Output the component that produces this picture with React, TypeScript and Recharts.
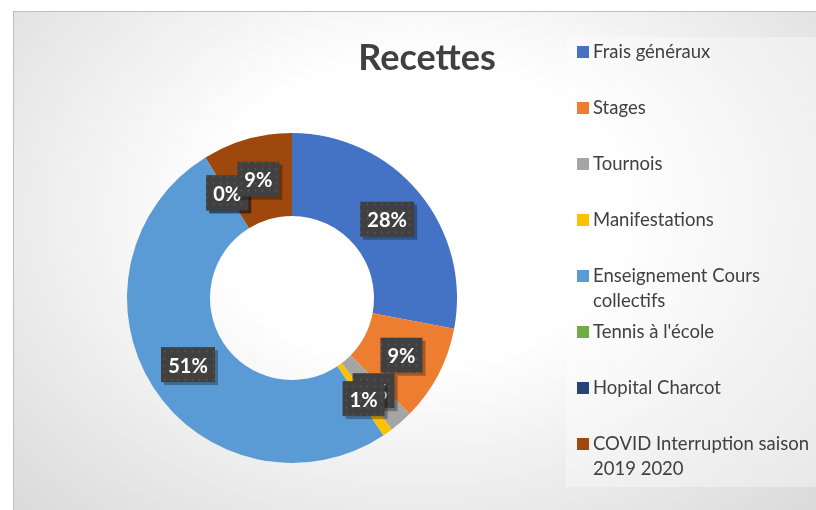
import React from 'react';
import { PieChart, Pie, Cell, Legend } from 'recharts';

// Recettes par poste (en % estimé depuis le graphique)
const categories = [
  'Frais généraux',
  'Stages',
  'Tournois',
  'Manifestations',
  'Enseignement Cours collectifs',
  "Tennis à l'école",
  'Hopital Charcot',
  'COVID  Interruption saison 2019 2020',
];
const values = [28.0, 9.4, 2.3, 1.0, 50.6, 0, 0, 8.8];
const colors = ['#4472C4', '#ED7D31', '#A5A5A5', '#FFC000', '#5B9BD5', '#70AD47', '#264478', '#9E480E'];

const data = categories.map((name, i) => ({ name, value: values[i] }));

const FONT = 'Lato, "Open Sans", sans-serif';
const RAD = Math.PI / 180;

const renderLabel = (props: any) => {
  const { cx, cy, midAngle, innerRadius, outerRadius, percent, index } = props;
  const r = (innerRadius + outerRadius) / 2;
  const x = cx + r * Math.cos(-midAngle * RAD);
  const y = cy + r * Math.sin(-midAngle * RAD);
  const text = `${Math.round(percent * 100)}%`;
  const w = text.length === 3 ? 54 : 42;
  const h = 35;
  const pid = `dots-${index}`;
  return (
    <g key={`lbl-${index}`}>
      <defs>
        <pattern id={pid} width="7" height="7" patternUnits="userSpaceOnUse">
          <rect width="7" height="7" fill="#404040" />
          <circle cx="3.5" cy="3.5" r="0.9" fill="#575757" />
        </pattern>
      </defs>
      <rect x={x - w / 2 + 3} y={y - h / 2 + 3} width={w} height={h} fill="rgba(0,0,0,0.3)" />
      <rect x={x - w / 2} y={y - h / 2} width={w} height={h} fill={`url(#${pid})`} />
      <text
        x={x}
        y={y}
        fill="#ffffff"
        textAnchor="middle"
        dominantBaseline="central"
        style={{ fontFamily: FONT, fontWeight: 700, fontSize: 20 }}
      >
        {text}
      </text>
    </g>
  );
};

const renderLegend = () => (
  <div
    style={{
      position: 'relative',
      width: 251,
      height: 450,
      background: 'rgba(255,255,255,0.35)',
      fontFamily: FONT,
      fontSize: 18.5,
      color: '#404040',
    }}
  >
    {categories.map((name, i) => (
      <div key={name} style={{ position: 'absolute', left: 0, top: 1.5 + i * 56, width: 251 }}>
        <span
          style={{
            position: 'absolute',
            left: 11,
            top: 7,
            width: 12,
            height: 12,
            background: colors[i],
          }}
        />
        <div style={{ marginLeft: 27, width: 222, lineHeight: '25px' }}>{name}</div>
      </div>
    ))}
  </div>
);

const App: React.FC = () => {
  return (
    <div
      style={{
        position: 'fixed',
        left: 13,
        top: 11,
        width: 803,
        height: 499,
        overflow: 'hidden',
        borderLeft: '1px solid #bfbfbf',
        borderTop: '1px solid #bfbfbf',
        background: 'radial-gradient(ellipse at 50% 40%, #ffffff 35%, #dadada 100%)',
      }}
    >
      <div
        style={{
          position: 'absolute',
          left: 313,
          top: 22,
          width: 200,
          textAlign: 'center',
          fontFamily: FONT,
          fontWeight: 700,
          fontSize: 36,
          color: '#404040',
        }}
      >
        Recettes
      </div>
      <PieChart
        width={803}
        height={499}
        margin={{ top: 0, right: 0, bottom: 0, left: 0 }}
        style={{ position: 'absolute', left: 0, top: 0 }}
      >
        <Pie
          data={data}
          dataKey="value"
          nameKey="name"
          cx={278}
          cy={286}
          innerRadius={82}
          outerRadius={165}
          startAngle={90}
          endAngle={-270}
          stroke="none"
          label={renderLabel}
          labelLine={false}
          isAnimationActive={false}
        >
          {data.map((d, i) => (
            <Cell key={d.name} fill={colors[i]} />
          ))}
        </Pie>
        <Legend
          content={renderLegend}
          wrapperStyle={{ position: 'absolute', left: 552, top: 25, width: 251, height: 450 }}
        />
      </PieChart>
    </div>
  );
};

export default App;
